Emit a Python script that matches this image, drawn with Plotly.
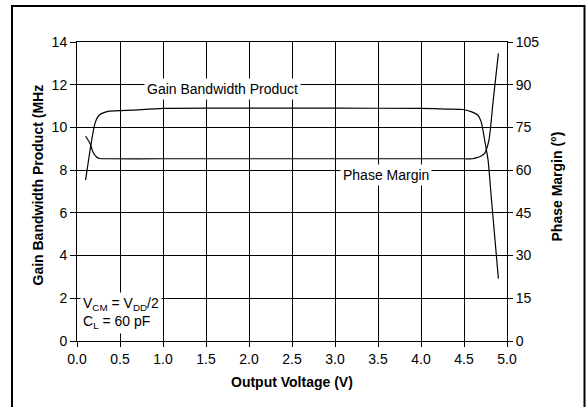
import plotly.graph_objects as go

# Gain Bandwidth Product (MHz) vs Output Voltage (V)
gbp_v = [0.10, 0.21, 0.26, 0.38, 0.65, 1.0, 2.0, 3.0, 4.0, 4.3, 4.49, 4.59, 4.66, 4.70, 4.74, 4.78, 4.82, 4.90]
gbp_mhz = [7.53, 10.2, 10.58, 10.76, 10.81, 10.89, 10.9, 10.9, 10.89, 10.86, 10.84, 10.73, 10.58, 10.26, 9.41, 8.47, 6.59, 2.92]

# Phase Margin (deg) vs Output Voltage (V)
pm_v = [0.10, 0.148, 0.186, 0.225, 0.26, 0.35, 1.0, 2.0, 3.0, 4.0, 4.5, 4.60, 4.64, 4.70, 4.74, 4.79, 4.84, 4.90]
pm_deg = [71.9, 69.6, 66.4, 64.7, 64.1, 64.0, 64.0, 64.0, 64.0, 64.0, 64.0, 64.0, 64.3, 65.0, 65.9, 70.5, 84.6, 101.0]

x_ticks = [0.0, 0.5, 1.0, 1.5, 2.0, 2.5, 3.0, 3.5, 4.0, 4.5, 5.0]
y_ticks = [0, 2, 4, 6, 8, 10, 12, 14]
y2_ticks = [0, 15, 30, 45, 60, 75, 90, 105]

FONT = "Arial, Liberation Sans, sans-serif"

fig = go.Figure()
fig.add_trace(go.Scatter(x=gbp_v, y=gbp_mhz, mode="lines", line=dict(color="black", width=1.2, shape="spline", smoothing=0.6), showlegend=False))
fig.add_trace(go.Scatter(x=pm_v, y=pm_deg, mode="lines", yaxis="y2", line=dict(color="black", width=1.2, shape="spline", smoothing=0.6), showlegend=False))

fig.update_layout(
    width=586, height=407,
    margin=dict(l=77, r=79, t=42, b=66, autoexpand=False),
    paper_bgcolor="white", plot_bgcolor="white",
    font=dict(family=FONT, size=14, color="black"),
    xaxis=dict(range=[0, 5], tickvals=x_ticks, ticktext=[f"{v:.1f}" for v in x_ticks],
               showgrid=True, gridcolor="black", gridwidth=1, zeroline=False,
               showline=True, linecolor="black", linewidth=1, mirror=True,
               ticks="outside", ticklen=5, tickcolor="black", tickfont=dict(size=14)),
    yaxis=dict(range=[0, 14], tickvals=y_ticks,
               showgrid=True, gridcolor="black", gridwidth=1, zeroline=False,
               showline=True, linecolor="black", linewidth=1,
               ticks="outside", ticklen=6, tickcolor="black", tickfont=dict(size=14)),
    yaxis2=dict(range=[0, 105], tickvals=y2_ticks, overlaying="y", side="right",
                showgrid=False, zeroline=False,
                showline=True, linecolor="black", linewidth=1,
                ticks="outside", ticklen=5, tickcolor="black", tickfont=dict(size=14)),
)

annos = [
    dict(x=1.69, y=11.8, xref="x", yref="y", text="Gain Bandwidth Product", showarrow=False,
         xanchor="center", yanchor="middle", bgcolor="white", font=dict(size=14), borderpad=2),
    dict(x=3.595, y=7.77, xref="x", yref="y", text="Phase Margin", showarrow=False,
         xanchor="center", yanchor="middle", bgcolor="white", font=dict(size=14), borderpad=2),
    dict(x=0.03, y=1.3, xref="x", yref="y", xanchor="left", yanchor="middle", align="left",
         text="V<sub>CM</sub> = V<sub>DD</sub>/2<br>C<sub>L</sub> = 60 pF", showarrow=False,
         bgcolor="white", font=dict(size=14), borderpad=2),
    dict(x=0.5, y=(341 - 381.7) / 299, xref="paper", yref="paper", text="<b>Output Voltage (V)</b>",
         xanchor="center", yanchor="middle", showarrow=False, font=dict(size=14)),
    dict(x=(37.5 - 77) / 430, y=(341 - 185) / 299, xref="paper", yref="paper",
         xanchor="center", yanchor="middle",
         text="<b>Gain Bandwidth Product (MHz</b>", textangle=-90, showarrow=False, font=dict(size=14)),
    dict(x=(556 - 77) / 430, y=(341 - 186.5) / 299, xref="paper", yref="paper",
         xanchor="center", yanchor="middle",
         text="<b>Phase Margin (°)</b>", textangle=-90, showarrow=False, font=dict(size=14)),
]
fig.update_layout(annotations=annos)

fig.add_shape(type="rect", xref="paper", yref="paper",
              x0=(12 - 77) / 430, x1=(584.5 - 77) / 430,
              y0=(341 - 430) / 299, y1=(341 - 6) / 299,
              line=dict(color="black", width=2), fillcolor="rgba(0,0,0,0)", layer="above")

fig.write_html("out.html", config={"displayModeBar": False},
               post_script="document.body.style.margin='0';document.body.style.overflow='hidden';")
